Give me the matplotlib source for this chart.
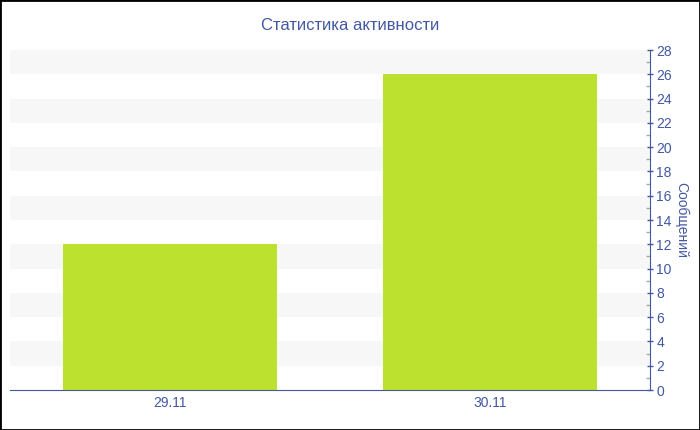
import matplotlib
matplotlib.use("Agg")
import matplotlib.pyplot as plt
from matplotlib.ticker import MultipleLocator
from matplotlib.patches import Rectangle

plt.rcParams["font.family"] = ["Liberation Sans", "DejaVu Sans"]

categories = ["29.11", "30.11"]
values = [12, 26]
title = "Статистика активности"
ylabel = "Сообщений"

blue = "#4358a3"
bar_color = "#bde12f"

fig = plt.figure(figsize=(7, 4.3), dpi=100)
ax = fig.add_axes([10/700, 40/430, 640/700, 340/430])

ymax = 28
for lo in range(2, ymax, 4):
    ax.axhspan(lo, lo + 2, color="#f7f7f7", zorder=0, lw=0)

x = list(range(len(categories)))
ax.bar(x, values, width=0.67, color=bar_color, zorder=2)
ax.set_xlim(-0.5, len(categories) - 0.5)
ax.set_ylim(0, ymax)

ax.set_xticks(x)
ax.set_xticklabels(categories)
ax.yaxis.tick_right()
ax.yaxis.set_label_position("right")
ax.yaxis.set_major_locator(MultipleLocator(2))
ax.yaxis.set_minor_locator(MultipleLocator(1))

for s in ["top", "left"]:
    ax.spines[s].set_visible(False)
ax.spines["right"].set_color(blue)
ax.spines["bottom"].set_color(blue)

ax.tick_params(axis="y", which="major", colors=blue, labelsize=10, length=5, direction="inout", width=1, pad=2)
ax.tick_params(axis="y", which="minor", color="#aaaaaa", length=3, direction="in", width=1)
ax.tick_params(axis="x", which="major", colors="#555555", labelcolor=blue, labelsize=10, length=3, direction="in", pad=4)

ax.set_ylabel(ylabel, color=blue, fontsize=10, rotation=270, labelpad=12)
fig.text(0.5, 1 - 25/430, title, color=blue, fontsize=12, ha="center", va="center")

fig.patches.append(Rectangle((0, 0), 1, 1, transform=fig.transFigure, fill=False, edgecolor="black", linewidth=2, zorder=10))

fig.savefig("out.png", dpi=100)
